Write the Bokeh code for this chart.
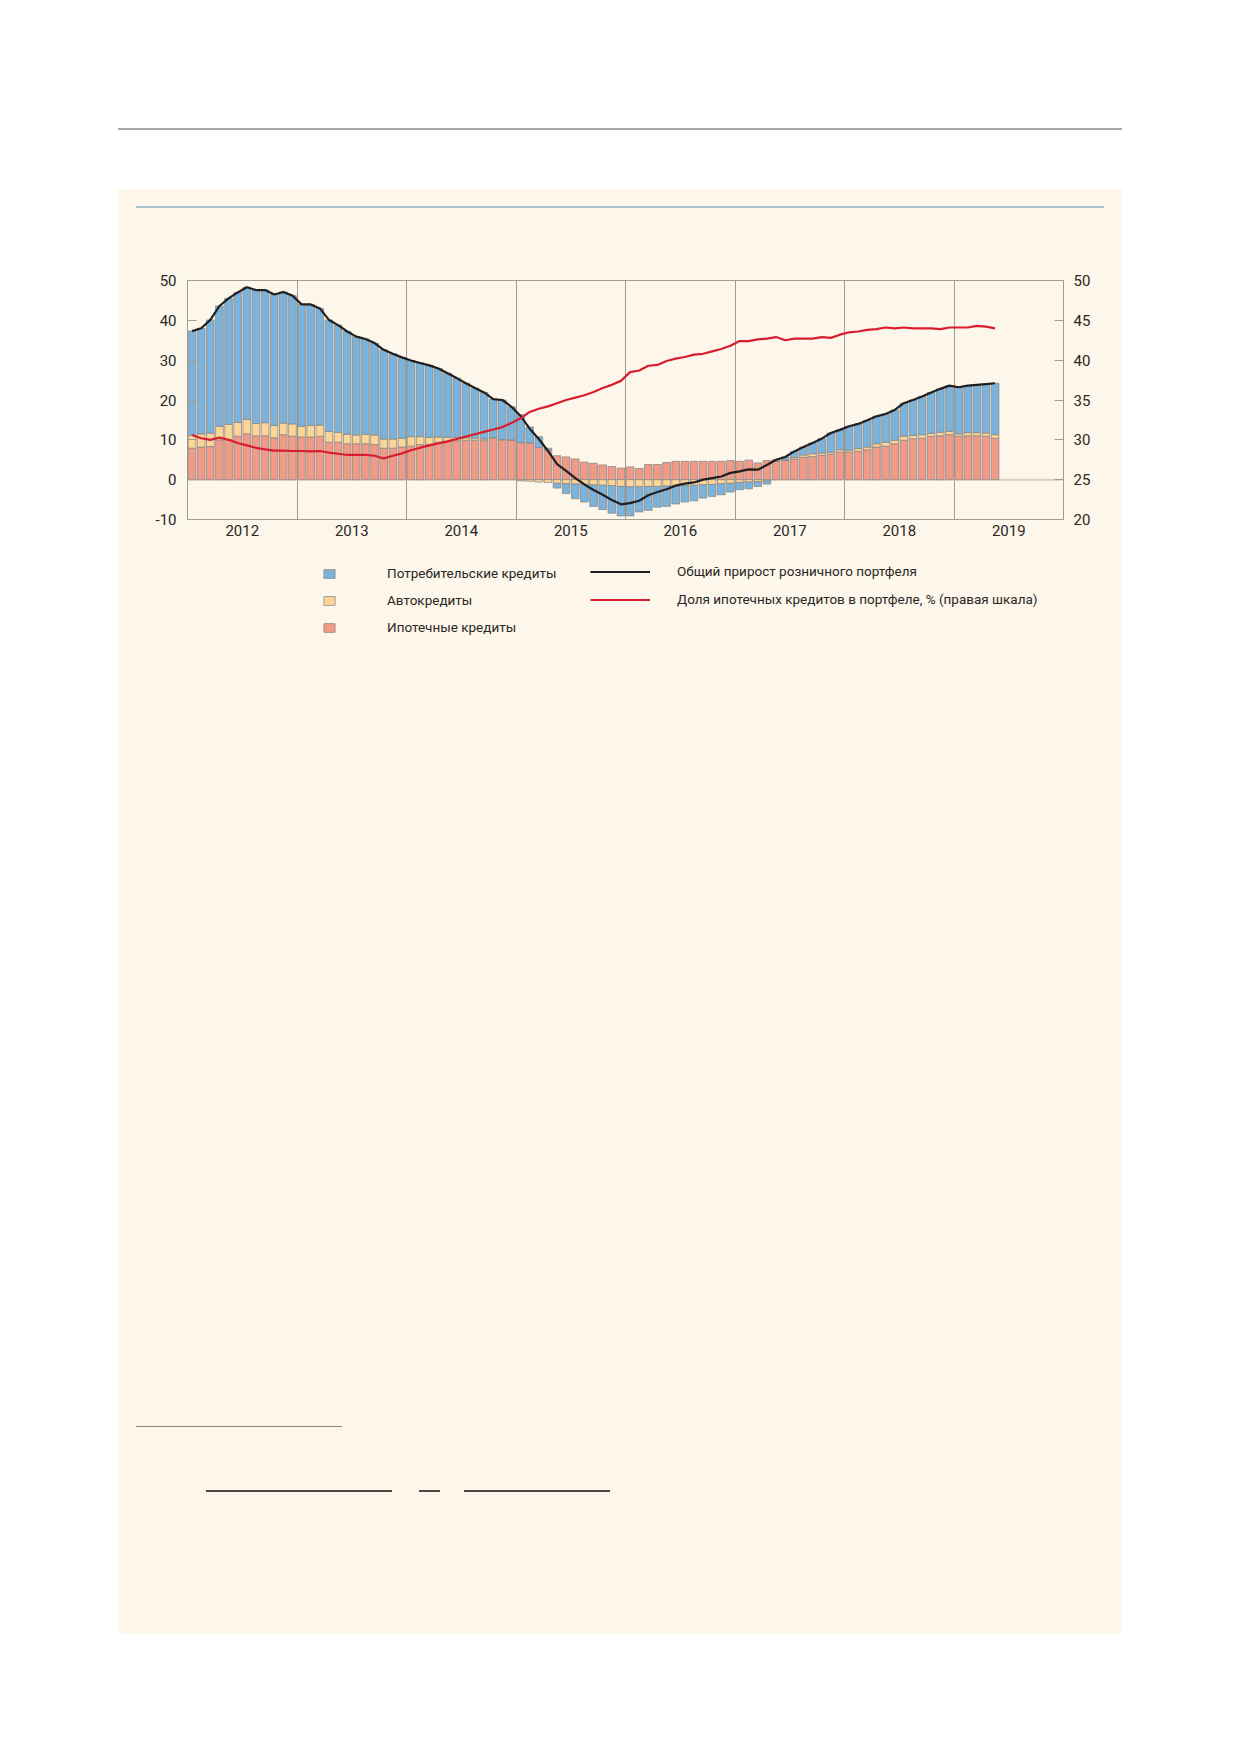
import numpy as np

from bokeh.embed import file_html
from bokeh.layouts import column, row
from bokeh.models import (ColumnDataSource, Div, FixedTicker, Legend, LegendItem,
                          LinearAxis, Range1d, Spacer, Span)
from bokeh.plotting import figure
from bokeh.resources import INLINE

# годовой прирост розничного портфеля, %, помесячно: январь 2012 - май 2019
years = ["2012", "2013", "2014", "2015", "2016", "2017", "2018", "2019"]

mortgage = [
    7.9, 8.2, 8.3, 10.0, 10.1, 10.9, 11.5, 11.0, 11.0, 10.5, 11.3, 10.9,
    10.7, 10.7, 10.9, 9.4, 9.4, 9.0, 9.0, 9.0, 8.8, 7.9, 7.9, 8.2,
    8.4, 8.8, 8.9, 9.4, 9.6, 9.8, 9.9, 9.9, 9.8, 10.4, 10.0, 9.9,
    9.3, 9.2, 8.1, 7.4, 6.0, 5.7, 5.2, 4.4, 4.1, 3.7, 3.3, 2.9,
    3.2, 2.8, 3.8, 3.8, 4.3, 4.6, 4.6, 4.6, 4.6, 4.6, 4.6, 4.8,
    4.6, 4.9, 4.2, 4.8, 4.6, 4.8, 5.2, 5.6, 5.8, 6.1, 6.4, 6.9,
    6.9, 7.1, 7.5, 8.2, 8.4, 9.0, 9.9, 10.3, 10.4, 10.9, 11.0, 11.3,
    10.9, 11.0, 11.0, 10.9, 10.4]

auto = [
    3.2, 3.3, 3.4, 3.4, 3.8, 3.5, 3.6, 3.1, 3.3, 3.1, 2.9, 3.1,
    2.7, 2.9, 2.8, 2.7, 2.5, 2.4, 2.2, 2.4, 2.4, 2.3, 2.3, 2.2,
    2.4, 2.0, 1.7, 1.3, 1.0, 0.8, 0.6, 0.5, 0.4, 0.2, 0.1, 0.1,
    -0.3, -0.4, -0.6, -0.7, -0.9, -1.0, -1.1, -1.2, -1.3, -1.4, -1.5, -1.7,
    -1.8, -1.8, -1.7, -1.7, -1.6, -1.6, -1.5, -1.4, -1.3, -1.2, -1.0, -0.9,
    -0.7, -0.6, -0.5, -0.3, 0.1, 0.2, 0.4, 0.6, 0.7, 0.6, 0.5, 0.6,
    0.5, 0.7, 0.7, 0.8, 1.0, 0.9, 1.0, 0.8, 0.9, 0.7, 0.9, 0.8,
    0.6, 0.8, 0.8, 0.8, 0.9]

consumer = [
    26.2, 26.5, 28.4, 30.2, 31.6, 32.6, 33.2, 33.5, 33.3, 32.9, 32.9, 32.2,
    30.6, 30.4, 29.3, 28.0, 26.9, 25.8, 24.7, 23.9, 23.1, 22.4, 21.4, 20.3,
    19.1, 18.5, 18.1, 17.2, 16.1, 14.9, 13.7, 12.6, 11.7, 9.6, 9.9, 8.3,
    7.0, 4.0, 2.7, 0.5, -1.2, -2.5, -3.7, -4.4, -5.4, -6.1, -6.9, -7.4,
    -7.3, -6.3, -6.0, -5.2, -5.1, -4.5, -4.1, -3.9, -3.3, -3.0, -2.8, -2.2,
    -1.8, -1.7, -1.2, -0.8, 0.3, 0.7, 1.5, 2.0, 2.7, 3.6, 4.8, 5.0,
    6.0, 6.2, 6.7, 6.9, 7.1, 7.6, 8.3, 8.9, 9.6, 10.3, 10.9, 11.5,
    11.7, 11.8, 12.0, 12.3, 12.9]

total = [
    37.3, 38.0, 40.1, 43.6, 45.5, 47.0, 48.3, 47.6, 47.6, 46.5, 47.1, 46.2,
    44.0, 44.0, 43.0, 40.1, 38.8, 37.2, 35.9, 35.3, 34.3, 32.6, 31.6, 30.7,
    29.9, 29.3, 28.7, 27.9, 26.7, 25.5, 24.2, 23.0, 21.9, 20.2, 20.0, 18.3,
    16.0, 12.8, 10.2, 7.2, 3.9, 2.2, 0.4, -1.2, -2.6, -3.8, -5.1, -6.2,
    -5.9, -5.3, -3.9, -3.1, -2.4, -1.5, -1.0, -0.7, 0.0, 0.4, 0.8, 1.7,
    2.1, 2.6, 2.5, 3.7, 5.0, 5.7, 7.1, 8.2, 9.2, 10.3, 11.7, 12.5,
    13.4, 14.0, 14.9, 15.9, 16.5, 17.5, 19.2, 20.0, 20.9, 21.9, 22.8, 23.6,
    23.2, 23.6, 23.8, 24.0, 24.2]

# правая шкала
mortgage_share = [
    30.6, 30.2, 30.0, 30.3, 30.0, 29.6, 29.3, 29.0, 28.8, 28.65, 28.65, 28.6,
    28.6, 28.55, 28.6, 28.4, 28.25, 28.1, 28.1, 28.1, 28.0, 27.65, 28.0, 28.3,
    28.7, 29.0, 29.3, 29.55, 29.8, 30.1, 30.4, 30.7, 31.0, 31.3, 31.6, 32.1,
    32.7, 33.5, 33.9, 34.2, 34.6, 35.0, 35.3, 35.6, 36.0, 36.5, 36.9, 37.4,
    38.5, 38.7, 39.3, 39.4, 39.9, 40.2, 40.4, 40.7, 40.8, 41.1, 41.4, 41.8,
    42.4, 42.4, 42.6, 42.7, 42.9, 42.5, 42.7, 42.7, 42.7, 42.9, 42.8, 43.2,
    43.5, 43.6, 43.8, 43.9, 44.1, 44.0, 44.1, 44.0, 44.0, 44.0, 43.9, 44.1,
    44.1, 44.1, 44.3, 44.2, 44.0]

left_ticks = [-10, 0, 10, 20, 30, 40, 50]
right_ticks = [20, 25, 30, 35, 40, 45, 50]

bar_labels = ["Потребительские кредиты", "Автокредиты", "Ипотечные кредиты"]
total_label = "Общий прирост розничного портфеля"
share_label = "Доля ипотечных кредитов в портфеле, % (правая шкала)"

FONT = "Roboto"
CREAM = "#fdf6ea"
BLUE = "#7ab3db"
YELLOW = "#fdd697"
PINK = "#f19a88"
RED = "#d81e2e"
BLACK = "#231f20"
INK = "#2b2724"
FRAME = "#a39c93"
BAR_EDGE = "#8e8984"

# stacking: positive parts go up from zero, negative parts go down
m = np.array(mortgage)
a = np.array(auto)
c = np.array(consumer)
month = np.arange(len(m)) + 0.5
auto_base = np.where(a >= 0, m, 0.0)
cons_base = np.where(c >= 0, m + np.clip(a, 0, None), np.clip(a, None, 0))

src = ColumnDataSource(dict(
    x=month,
    mort_top=m,
    auto_bottom=auto_base, auto_top=auto_base + a,
    cons_bottom=cons_base, cons_top=cons_base + c,
    total=total, share=mortgage_share,
))

p = figure(width=1004, height=341, title=None,
           x_range=Range1d(0, 12 * len(years)), y_range=Range1d(-10, 50),
           min_border_left=69, min_border_right=59,
           min_border_top=72, min_border_bottom=30,
           background_fill_color=CREAM, border_fill_color=CREAM,
           outline_line_color=FRAME,
           output_backend="svg", toolbar_location=None, tools="")
p.extra_y_ranges = {"share": Range1d(20, 50)}

p.add_layout(Span(location=0, dimension="width", line_color="#d8d0c4",
                  line_width=2, level="underlay"))

bar_kw = dict(x="x", width=0.84, source=src, line_color=BAR_EDGE, line_width=0.8)
p.vbar(bottom=0, top="mort_top", fill_color=PINK, **bar_kw)
p.vbar(bottom="auto_bottom", top="auto_top", fill_color=YELLOW, **bar_kw)
p.vbar(bottom="cons_bottom", top="cons_top", fill_color=BLUE, **bar_kw)

p.line("x", "total", source=src, line_color=BLACK, line_width=2.2)
p.line("x", "share", source=src, y_range_name="share", line_color=RED, line_width=2.2)

# axes
year_mid = [12 * i + 6 for i in range(len(years))]
year_edge = [12 * i for i in range(1, len(years))]

ax_r = LinearAxis(y_range_name="share", ticker=FixedTicker(ticks=right_ticks))
p.add_layout(ax_r, "right")
p.yaxis[0].ticker = FixedTicker(ticks=left_ticks)
p.yaxis[0].major_label_overrides = {t: str(t) for t in left_ticks}
p.xaxis.ticker = FixedTicker(ticks=year_mid)
p.xaxis.major_label_overrides = dict(zip(year_mid, years))

for ax in (p.yaxis[0], ax_r, p.xaxis[0]):
    ax.major_label_text_font = FONT
    ax.major_label_text_font_size = "15px"
    ax.major_label_text_color = INK
    ax.axis_line_color = None
    ax.minor_tick_line_color = None
    ax.major_tick_line_color = FRAME
    ax.major_tick_in = 9
    ax.major_tick_out = 0
p.yaxis[0].major_label_standoff = 11
ax_r.major_label_standoff = 10
p.xaxis.major_tick_line_color = None
p.xaxis.major_label_standoff = 5

p.xgrid.ticker = FixedTicker(ticks=year_edge)
p.xgrid.grid_line_color = FRAME
p.ygrid.grid_line_color = None

# legend strip under the chart; its renderers are hidden and only lend
# their styles to the legend keys
lg = figure(width=1004, height=96, x_range=Range1d(200, 201), y_range=Range1d(100, 101),
            x_axis_location=None, y_axis_location=None, title=None, min_border=0,
            background_fill_color=CREAM, border_fill_color=CREAM,
            outline_line_color=None, output_backend="svg",
            toolbar_location=None, tools="")
lg.grid.grid_line_color = None
hidden = dict(visible=False)
k_mort = lg.vbar(bottom=0, top="mort_top", fill_color=PINK, **hidden, **bar_kw)
k_auto = lg.vbar(bottom="auto_bottom", top="auto_top", fill_color=YELLOW, **hidden, **bar_kw)
k_cons = lg.vbar(bottom="cons_bottom", top="cons_top", fill_color=BLUE, **hidden, **bar_kw)
k_total = lg.line("x", "total", source=src, line_color=BLACK, line_width=2.2, **hidden)
k_share = lg.line("x", "share", source=src, line_color=RED, line_width=2.2, **hidden)

# the column aligns this frame with the chart frame (x = 187..1063 on the page)
leg_kw = dict(background_fill_alpha=0, border_line_color=None, padding=0, margin=0,
              label_text_font=FONT, label_text_font_size="13.5px",
              label_text_color=INK, glyph_height=11, label_height=11,
              inactive_fill_alpha=0)
lg.add_layout(Legend(items=[LegendItem(label=bar_labels[0], renderers=[k_cons]),
                            LegendItem(label=bar_labels[1], renderers=[k_auto]),
                            LegendItem(label=bar_labels[2], renderers=[k_mort])],
                     location=(135, 10), spacing=11, glyph_width=14,
                     label_standoff=51, **leg_kw))
lg.add_layout(Legend(items=[LegendItem(label=total_label, renderers=[k_total]),
                            LegendItem(label=share_label, renderers=[k_share])],
                     location=(403, 38), spacing=12, glyph_width=60,
                     label_standoff=27, **leg_kw))


def rule(width, height, color, margin):
    return Div(text="", width=width, height=height, margin=margin,
               styles={"background-color": color})


panel = column(
    rule(968, 2, "#a9c4ca", (17, 0, 0, 18)),
    p,
    lg,
    rule(206, 1, "#8f877d", (781, 0, 0, 18)),
    row(rule(186, 2, "#4e4741", (0, 0, 0, 0)),
        rule(21, 2, "#4e4741", (0, 0, 0, 27)),
        rule(146, 2, "#4e4741", (0, 0, 0, 24)),
        margin=(63, 0, 0, 88)),
    Spacer(width=1004, height=142),
    margin=(59, 0, 0, 118), spacing=0,
    styles={"background-color": CREAM},
)

page = column(rule(1004, 2, "#a8a8a8", (128, 0, 0, 118)), panel, spacing=0)

with open("out.html", "w", encoding="utf-8") as f:
    f.write(file_html(page, INLINE, title="Прирост розничного кредитного портфеля"))
